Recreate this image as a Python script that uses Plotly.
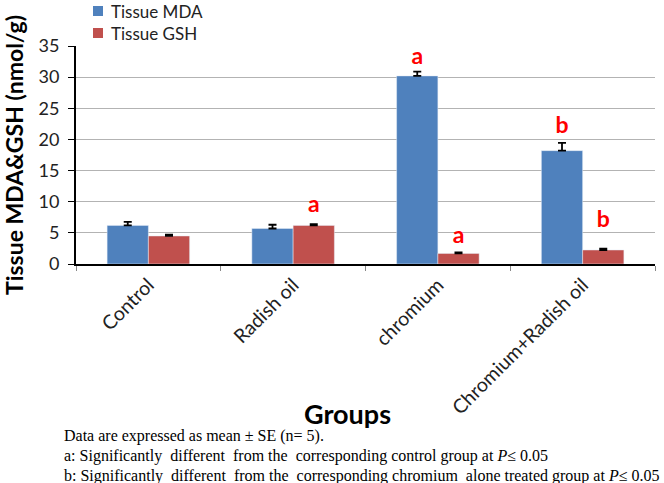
import plotly.graph_objects as go

groups = ["Control", "Radish oil", "chromium", "Chromium+Radish oil"]

mda = [6.2, 5.7, 30.2, 18.2]
mda_se = [0.55, 0.6, 0.7, 1.25]
gsh = [4.5, 6.2, 1.7, 2.25]
gsh_se = [0.2, 0.2, 0.15, 0.2]

# significance letters and the height they sit at
mda_sig = ["", "", "a", "b"]
mda_sig_y = [None, None, 33.0, 22.0]
gsh_sig = ["", "a", "a", "b"]
gsh_sig_y = [None, 9.3, 4.3, 6.8]

series_names = ["Tissue MDA", "Tissue GSH"]

footnotes = [
    "Data are expressed as mean ± SE (n= 5).",
    "a: Significantly  different  from the  corresponding control group at <i>P</i>≤ 0.05",
    "b: Significantly  different  from the  corresponding chromium  alone treated group at <i>P</i>≤ 0.05",
]

BLUE = "#4F81BD"
RED = "#C0504D"
FONT = "Lato, Open Sans, sans-serif"

W, H = 664, 483
# plot area in pixels (left, right, top, bottom)
L, R, T, B = 76, 655, 46, 264
PW, PH = R - L, B - T


def px(x):
    return (x - L) / PW


def py(y):
    return (B - y) / PH


fig = go.Figure()

fig.add_trace(go.Bar(
    x=groups, y=mda, name=series_names[0], marker_color=BLUE, offsetgroup="mda",
    error_y=dict(type="data", array=mda_se, arrayminus=[0] * 4, symmetric=False,
                 color="black", thickness=1.8, width=4),
))
fig.add_trace(go.Bar(
    x=groups, y=gsh, name=series_names[1], marker_color=RED, offsetgroup="gsh",
    error_y=dict(type="data", array=gsh_se, arrayminus=[0] * 4, symmetric=False,
                 color="black", thickness=1.8, width=4),
))

# letters above the bars
fig.add_trace(go.Scatter(
    x=groups, y=mda_sig_y, text=mda_sig, mode="text", offsetgroup="mda",
    textfont=dict(family=FONT, size=23, color="#FF0000", weight="bold"),
    showlegend=False, hoverinfo="skip",
))
fig.add_trace(go.Scatter(
    x=groups, y=gsh_sig_y, text=gsh_sig, mode="text", offsetgroup="gsh",
    textfont=dict(family=FONT, size=23, color="#FF0000", weight="bold"),
    showlegend=False, hoverinfo="skip",
))

fig.update_layout(
    width=W, height=H,
    margin=dict(l=L, r=W - R, t=T, b=H - B, autoexpand=False),
    plot_bgcolor="white", paper_bgcolor="white",
    barmode="group", bargap=0.43, bargroupgap=0,
    scattermode="group",
    font=dict(family=FONT, color="#1a1a1a"),
    showlegend=False,
)

fig.update_yaxes(
    range=[0, 35], dtick=5, showgrid=True, gridcolor="#b3b3b3", gridwidth=1.3,
    showline=True, linecolor="black", linewidth=2, ticks="outside", ticklen=6,
    tickcolor="black", tickfont=dict(size=18, color="#222"), zeroline=False,
    ticklabelstandoff=5,
    title=dict(text="<b>Tissue MDA&GSH (nmol/g)</b>", font=dict(size=23, color="black"),
               standoff=8),
)
fig.update_xaxes(
    showline=True, linecolor="black", linewidth=2, ticks="outside", ticklen=5,
    tickson="boundaries", tickcolor="#888", tickangle=-45,
    tickfont=dict(size=19.5, color="#222"),
)

# legend drawn by hand: small squares plus one two-line label
legend_rows = [11, 33]
for color, yc in zip([BLUE, RED], legend_rows):
    fig.add_shape(type="rect", xref="paper", yref="paper",
                  x0=px(93), x1=px(103), y0=py(yc + 5), y1=py(yc - 5),
                  fillcolor=color, line_width=0)
fig.add_annotation(text="<br>".join(series_names), xref="paper", yref="paper",
                   x=px(110), y=py(sum(legend_rows) / 2), xanchor="left", yanchor="middle",
                   align="left", showarrow=False, borderpad=0,
                   font=dict(size=17, color="#222", family=FONT))

fig.add_annotation(text="<b>Groups</b>", xref="paper", yref="paper",
                   x=px(347), y=py(413), xanchor="center", yanchor="middle",
                   showarrow=False, font=dict(size=27, color="black", family=FONT))

for i, line in enumerate(footnotes):
    fig.add_annotation(
        text=line, xref="paper", yref="paper",
        x=px(62), y=py(436 + 20 * i), xanchor="left", yanchor="middle", showarrow=False,
        font=dict(family="Liberation Serif, Times New Roman, serif", size=16, color="black"),
    )

# drop the default 8px page margin so the figure fills the window
fig.write_html("out.html", config={"displayModeBar": False},
               post_script="document.body.style.margin = '0';")
